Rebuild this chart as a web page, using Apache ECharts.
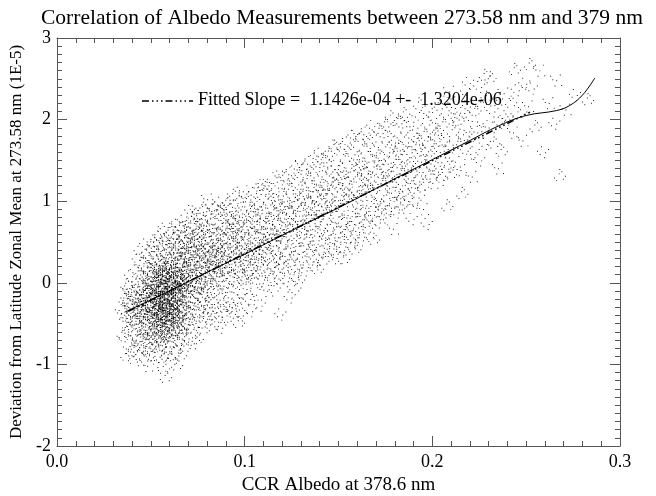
<!DOCTYPE html>
<html><head><meta charset="utf-8">
<script src="https://cdn.jsdelivr.net/npm/echarts@6/dist/echarts.min.js"></script>
<style>html,body{margin:0;padding:0;background:#fff}#c{width:656px;height:496px}</style>
</head><body><div id="c"></div>
<script>
// ---- chart text ----
var titleText = 'Correlation of Albedo Measurements between 273.58 nm and 379 nm';
var xName = 'CCR Albedo at 378.6 nm';
var yName = 'Deviation from Latitude Zonal Mean at 273.58 nm (1E-5)';
var fitName = 'Fitted Slope =  1.1426e-04 +-  1.3204e-06';
var xTicks = [0.0, 0.1, 0.2, 0.3];
var yTicks = [-2, -1, 0, 1, 2, 3];

// ---- scatter points ----
var pointsLow = [
[0.036,-0.35],[0.038,-0.21],[0.037,-0.48],[0.039,-0.05],[0.035,-0.62],[0.038,-0.30],[0.039,-0.41],[0.037,-0.15],[0.036,-0.72],[0.039,-0.26],
[0.038,-0.55],[0.034,-0.38],[0.039,0.08],[0.037,-0.88],[0.038,-0.12],[0.039,-0.67],[0.036,-0.20],[0.039,-0.33],[0.038,-0.44],[0.037,-0.02],
[0.040,-0.31],[0.041,-0.12],[0.042,-0.45],[0.040,-0.58],[0.043,-0.22],[0.041,-0.36],[0.044,0.05],[0.042,-0.18],[0.043,-0.67],[0.045,-0.29],
[0.044,-0.41],[0.046,-0.08],[0.045,-0.52],[0.047,-0.17],[0.046,-0.34],[0.048,0.12],[0.047,-0.61],[0.049,-0.25],[0.048,-0.44],[0.049,0.02],
[0.041,-0.78],[0.043,-0.04],[0.045,0.21],[0.046,-0.73],[0.047,0.30],[0.048,-0.87],[0.049,-0.38],[0.044,-0.95],[0.042,0.15],[0.040,-0.10],
[0.045,-0.14],[0.046,-0.21],[0.047,-0.40],[0.048,-0.28],[0.049,-0.13],[0.045,-0.37],[0.046,-0.49],[0.047,-0.06],[0.048,-0.19],[0.049,-0.55],
[0.044,-0.26],[0.043,-0.33],[0.042,-0.27],[0.041,-0.50],[0.045,0.08],[0.046,0.14],[0.047,-0.26],[0.048,-0.08],[0.049,-0.32],[0.047,-0.84],
[0.048,0.40],[0.049,0.25],[0.046,-0.60],[0.045,-0.68],[0.044,-0.15],[0.043,-0.48],[0.049,-0.71],[0.048,-0.63],[0.047,0.04],[0.046,-0.02],
[0.044,-0.57],[0.045,-0.21],[0.046,-0.29],[0.047,-0.51],[0.048,-0.35],[0.049,-0.02],[0.049,-0.46],[0.048,-0.16],[0.047,-0.11],[0.046,-0.42],
[0.045,-0.79],[0.049,0.18],[0.048,-1.02],[0.043,0.28],[0.041,-0.92],[0.042,-0.70],[0.044,0.38],[0.040,-0.83],[0.049,-0.89],[0.047,0.47]
];
var pointsCore = [
[0.050,-0.24],[0.051,-0.08],[0.052,-0.36],[0.053,0.05],[0.054,-0.19],[0.055,-0.42],[0.056,-0.01],[0.057,-0.28],[0.058,0.11],[0.059,-0.15],
[0.050,-0.47],[0.051,-0.31],[0.052,-0.12],[0.053,-0.55],[0.054,0.16],[0.055,-0.06],[0.056,-0.33],[0.057,-0.49],[0.058,-0.20],[0.059,0.02],
[0.050,0.07],[0.051,-0.58],[0.052,0.22],[0.053,-0.27],[0.054,-0.40],[0.055,0.09],[0.056,-0.62],[0.057,0.19],[0.058,-0.38],[0.059,-0.29],
[0.050,-0.15],[0.051,0.14],[0.052,-0.50],[0.053,-0.09],[0.054,-0.30],[0.055,-0.17],[0.056,0.27],[0.057,-0.11],[0.058,-0.56],[0.059,-0.43],
[0.050,-0.66],[0.051,-0.20],[0.052,0.01],[0.053,-0.39],[0.054,-0.04],[0.055,-0.26],[0.056,-0.14],[0.057,0.02],[0.058,-0.07],[0.059,0.24],
[0.050,0.30],[0.051,-0.43],[0.052,-0.23],[0.053,0.18],[0.054,-0.59],[0.055,0.33],[0.056,-0.24],[0.057,-0.37],[0.058,0.31],[0.059,-0.61],
[0.050,-0.35],[0.051,0.04],[0.052,-0.71],[0.053,-0.17],[0.054,0.07],[0.055,-0.51],[0.056,-0.45],[0.057,-0.20],[0.058,-0.13],[0.059,-0.08],
[0.050,-0.05],[0.051,-0.37],[0.052,0.37],[0.053,-0.64],[0.054,-0.24],[0.055,-0.33],[0.056,0.08],[0.057,-0.69],[0.058,0.00],[0.059,-0.35],
[0.051,0.26],[0.052,-0.29],[0.053,-0.03],[0.054,-0.13],[0.055,0.20],[0.056,-0.53],[0.057,0.41],[0.058,-0.27],[0.059,-0.21],[0.055,-0.10],
[0.050,-0.80],[0.052,-0.85],[0.054,-0.76],[0.056,-0.91],[0.058,-0.78],[0.053,-0.97],[0.057,-1.04],[0.059,-0.88],[0.055,-0.82],[0.058,-1.15],
[0.051,0.45],[0.053,0.52],[0.055,0.48],[0.057,0.58],[0.059,0.44],[0.054,0.62],[0.056,0.40],[0.058,0.53],[0.052,0.49],[0.059,0.68],
[0.053,-0.45],[0.054,-0.49],[0.055,-0.73],[0.056,-0.18],[0.057,-0.55],[0.058,-0.46],[0.059,-0.51],[0.056,-0.70],[0.054,-0.66],[0.057,-0.62],
[0.052,-0.58],[0.053,0.10],[0.054,0.28],[0.055,0.13],[0.056,0.17],[0.057,0.08],[0.058,0.20],[0.059,0.13],[0.051,-0.14],[0.050,0.17],
[0.053,-0.21],[0.055,-0.38],[0.057,-0.04],[0.059,-0.72],[0.058,-0.67],[0.056,-0.38],[0.054,-0.35],[0.052,-0.05],[0.050,-0.55],[0.051,-0.69],
[0.060,-0.12],[0.061,0.07],[0.062,-0.30],[0.063,0.15],[0.064,-0.05],[0.065,-0.22],[0.066,0.21],[0.067,0.03],[0.068,-0.17],[0.069,0.28],
[0.060,-0.41],[0.061,-0.19],[0.062,0.10],[0.063,-0.34],[0.064,0.29],[0.065,0.05],[0.066,-0.28],[0.067,-0.45],[0.068,0.12],[0.069,-0.08],
[0.060,0.19],[0.061,-0.52],[0.062,-0.08],[0.063,-0.15],[0.064,-0.40],[0.065,0.38],[0.066,-0.03],[0.067,0.26],[0.068,0.41],[0.069,-0.31],
[0.060,-0.02],[0.061,0.33],[0.062,-0.47],[0.063,0.01],[0.064,0.12],[0.065,-0.49],[0.066,0.44],[0.067,-0.22],[0.068,-0.38],[0.069,0.09],
[0.060,-0.63],[0.061,-0.06],[0.062,0.25],[0.063,-0.57],[0.064,-0.16],[0.065,0.17],[0.066,-0.11],[0.067,0.49],[0.068,-0.04],[0.069,0.36],
[0.060,0.36],[0.061,-0.35],[0.062,-0.20],[0.063,0.43],[0.064,-0.28],[0.065,-0.09],[0.066,-0.51],[0.067,-0.09],[0.068,0.22],[0.069,-0.18],
[0.060,-0.27],[0.061,0.20],[0.062,0.47],[0.063,-0.26],[0.064,0.52],[0.065,-0.34],[0.066,0.10],[0.067,-0.60],[0.068,-0.24],[0.069,0.51],
[0.060,0.06],[0.061,-0.72],[0.062,-0.64],[0.063,-0.81],[0.064,-0.69],[0.065,-0.74],[0.066,-0.88],[0.067,-0.70],[0.068,-0.55],[0.069,-0.47],
[0.060,0.55],[0.061,0.61],[0.062,0.58],[0.063,0.68],[0.064,0.71],[0.065,0.57],[0.066,0.64],[0.067,0.76],[0.068,0.60],[0.069,0.69],
[0.062,-0.93],[0.064,-1.00],[0.060,-0.86],[0.066,-0.62],[0.068,-0.79],[0.061,0.42],[0.063,0.30],[0.065,0.26],[0.067,0.14],[0.069,-0.02],
[0.060,-0.18],[0.062,-0.37],[0.064,0.02],[0.066,0.31],[0.068,0.31],[0.061,-0.44],[0.063,-0.06],[0.065,-0.60],[0.067,0.36],[0.069,0.18],
[0.064,-0.55],[0.066,-0.40],[0.068,0.02],[0.062,0.00],[0.060,0.28],[0.065,0.47],[0.063,-0.43],[0.067,-0.33],[0.069,-0.40],[0.061,0.13]
];
var pointsCoreDense = [
[0.054,-0.22],[0.056,-0.09],[0.058,-0.31],[0.060,-0.05],[0.062,-0.19],[0.064,-0.34],[0.057,0.06],[0.059,-0.42],[0.061,-0.26],[0.063,0.03],
[0.055,-0.29],[0.057,-0.16],[0.059,0.09],[0.061,-0.38],[0.063,-0.11],[0.065,0.12],[0.053,-0.33],[0.055,0.02],[0.058,-0.24],[0.060,-0.48],
[0.062,0.07],[0.064,-0.21],[0.066,-0.02],[0.052,-0.12],[0.054,-0.44],[0.056,-0.36],[0.058,-0.01],[0.060,0.14],[0.062,-0.41],[0.064,0.09],
[0.066,-0.29],[0.053,0.00],[0.055,-0.18],[0.057,-0.40],[0.059,-0.27],[0.061,0.04],[0.063,-0.23],[0.065,-0.39],[0.056,0.11],[0.058,-0.14],
[0.060,-0.30],[0.062,-0.12],[0.064,-0.07],[0.054,-0.06],[0.056,-0.26],[0.058,-0.47],[0.060,0.02],[0.062,-0.32],[0.064,0.16],[0.066,-0.15],
[0.055,-0.52],[0.057,-0.30],[0.059,-0.09],[0.061,-0.15],[0.063,-0.46],[0.065,-0.05],[0.053,-0.25],[0.057,0.13],[0.061,-0.53],[0.065,0.00],
[0.052,-0.38],[0.054,0.05],[0.056,-0.48],[0.058,0.17],[0.060,-0.22],[0.062,-0.56],[0.064,-0.45],[0.066,0.06],[0.059,-0.58],[0.063,-0.30]
];
var pointsMid = [
[0.070,0.05],[0.071,0.22],[0.072,-0.10],[0.073,0.31],[0.074,0.12],[0.075,-0.05],[0.076,0.38],[0.077,0.18],[0.078,0.02],[0.079,0.45],
[0.070,-0.22],[0.071,-0.04],[0.072,0.27],[0.073,-0.18],[0.074,0.42],[0.075,0.20],[0.076,-0.13],[0.077,-0.30],[0.078,0.29],[0.079,0.08],
[0.070,0.35],[0.071,-0.37],[0.072,0.09],[0.073,0.02],[0.074,-0.26],[0.075,0.51],[0.076,0.11],[0.077,0.40],[0.078,0.55],[0.079,-0.15],
[0.070,0.48],[0.071,0.15],[0.072,-0.45],[0.073,0.58],[0.074,0.01],[0.075,-0.40],[0.076,0.60],[0.077,-0.06],[0.078,-0.21],[0.079,0.24],
[0.070,-0.51],[0.071,0.62],[0.072,0.43],[0.073,-0.33],[0.074,0.66],[0.075,0.32],[0.076,-0.48],[0.077,0.71],[0.078,0.38],[0.079,0.63],
[0.070,0.74],[0.072,0.80],[0.074,0.85],[0.076,0.78],[0.078,0.92],[0.071,-0.62],[0.073,-0.58],[0.075,-0.68],[0.077,-0.55],[0.079,-0.44],
[0.070,0.18],[0.071,0.37],[0.072,-0.25],[0.073,0.14],[0.074,0.26],[0.075,0.08],[0.076,0.25],[0.077,0.05],[0.078,0.14],[0.079,-0.03],
[0.071,0.50],[0.073,0.46],[0.075,0.68],[0.077,0.53],[0.079,0.76],[0.070,-0.09],[0.072,0.60],[0.074,-0.12],[0.076,-0.02],[0.078,-0.35],
[0.073,-0.74],[0.077,-0.15],[0.075,0.89],[0.071,0.88],[0.079,0.34],[0.072,-0.03],[0.074,0.47],[0.076,0.49],[0.078,0.70],[0.070,0.61],
[0.080,0.15],[0.081,0.32],[0.082,0.05],[0.083,0.41],[0.084,0.21],[0.085,-0.02],[0.086,0.48],[0.087,0.27],[0.088,0.10],[0.089,0.55],
[0.080,-0.12],[0.081,0.58],[0.082,0.36],[0.083,-0.08],[0.084,0.64],[0.085,0.30],[0.086,0.02],[0.087,0.70],[0.088,0.44],[0.089,0.19],
[0.080,0.45],[0.081,-0.25],[0.082,0.72],[0.083,0.18],[0.084,-0.20],[0.085,0.79],[0.086,0.25],[0.087,-0.14],[0.088,0.83],[0.089,-0.05],
[0.080,0.68],[0.082,-0.38],[0.084,0.90],[0.086,-0.31],[0.088,-0.42],[0.081,0.85],[0.083,0.95],[0.085,0.52],[0.087,0.98],[0.089,0.88],
[0.080,0.28],[0.081,0.09],[0.082,0.22],[0.083,0.60],[0.084,0.39],[0.085,0.12],[0.086,0.66],[0.087,0.45],[0.088,0.31],[0.089,0.37],
[0.081,-0.45],[0.083,-0.52],[0.085,-0.36],[0.087,-0.55],[0.089,-0.28],[0.080,1.02],[0.084,0.08],[0.086,0.88],[0.088,0.60],[0.082,0.50],
[0.083,0.30],[0.085,0.40],[0.087,0.15],[0.089,0.72],[0.081,0.20],[0.084,0.55],[0.086,0.37],[0.088,0.18],[0.080,-0.30],[0.082,-0.02],
[0.090,0.25],[0.091,0.42],[0.092,0.12],[0.093,0.55],[0.094,0.31],[0.095,0.05],[0.096,0.62],[0.097,0.38],[0.098,0.20],[0.099,0.70],
[0.090,-0.05],[0.091,0.68],[0.092,0.47],[0.093,0.02],[0.094,0.78],[0.095,0.43],[0.096,0.14],[0.097,0.85],[0.098,0.52],[0.099,0.28],
[0.090,0.58],[0.091,-0.18],[0.092,0.88],[0.093,0.30],[0.094,-0.12],[0.095,0.95],[0.096,0.35],[0.097,-0.08],[0.098,1.00],[0.099,0.06],
[0.090,0.90],[0.092,-0.30],[0.094,1.08],[0.096,-0.25],[0.098,-0.40],[0.091,1.02],[0.093,0.72],[0.095,0.65],[0.097,0.58],[0.099,1.12],
[0.090,0.35],[0.091,0.18],[0.092,0.32],[0.093,0.80],[0.094,0.50],[0.095,0.22],[0.096,0.81],[0.097,0.18],[0.098,0.42],[0.099,0.48],
[0.091,-0.42],[0.093,-0.35],[0.095,-0.28],[0.097,-0.48],[0.099,-0.20],[0.090,0.12],[0.094,0.65],[0.096,0.50],[0.098,0.75],[0.092,0.65]
];
var pointsHigh = [
[0.100,0.35],[0.101,0.55],[0.102,0.20],[0.103,0.68],[0.104,0.42],[0.105,0.10],[0.106,0.75],[0.107,0.48],[0.108,0.28],[0.109,0.85],
[0.100,0.05],[0.101,0.80],[0.102,0.60],[0.103,0.12],[0.104,0.92],[0.105,0.55],[0.106,0.25],[0.107,0.98],[0.108,0.62],[0.109,0.38],
[0.100,0.70],[0.101,-0.08],[0.102,1.02],[0.103,0.40],[0.104,0.00],[0.105,1.10],[0.106,0.45],[0.107,0.05],[0.108,1.15],[0.109,0.18],
[0.100,1.05],[0.102,-0.20],[0.104,0.65],[0.106,-0.15],[0.108,-0.28],[0.101,0.30],[0.103,0.88],[0.105,0.32],[0.107,0.70],[0.109,0.60],
[0.100,0.48],[0.102,0.38],[0.104,0.22],[0.106,0.90],[0.108,0.45],[0.101,0.15],[0.103,-0.35],[0.105,0.80],[0.107,0.28],[0.109,1.20],
[0.110,0.48],[0.111,0.66],[0.112,0.30],[0.113,0.80],[0.114,0.52],[0.115,0.20],[0.116,0.88],[0.117,0.60],[0.118,0.38],[0.119,0.95],
[0.110,0.15],[0.111,0.92],[0.112,0.72],[0.113,0.25],[0.114,1.05],[0.115,0.65],[0.116,0.35],[0.117,1.12],[0.118,0.75],[0.119,0.50],
[0.110,0.82],[0.111,0.02],[0.112,1.15],[0.113,0.55],[0.114,0.10],[0.115,1.22],[0.116,0.58],[0.117,0.18],[0.118,1.30],[0.119,-0.39],
[0.110,1.20],[0.112,-0.10],[0.114,0.78],[0.116,-0.05],[0.118,0.05],[0.111,0.42],[0.113,1.02],[0.115,0.45],[0.117,0.85],[0.119,0.70],
[0.110,0.60],[0.112,0.50],[0.114,0.35],[0.116,1.00],[0.118,0.58],[0.119,0.28],
[0.120,0.58],[0.121,0.78],[0.122,0.40],[0.123,0.92],[0.124,0.64],[0.125,0.30],[0.126,1.00],[0.127,0.72],[0.128,0.50],[0.129,1.08],
[0.120,0.25],[0.121,1.05],[0.122,0.85],[0.123,0.35],[0.124,1.18],[0.125,0.78],[0.126,0.45],[0.127,1.25],[0.128,0.88],[0.129,0.62],
[0.120,0.95],[0.121,0.12],[0.122,1.28],[0.123,0.68],[0.124,0.20],[0.125,1.35],[0.126,0.70],[0.127,0.28],[0.128,1.42],[0.129,0.05],
[0.120,1.32],[0.122,0.02],[0.124,0.90],[0.126,0.10],[0.128,0.15],[0.121,0.55],[0.123,1.15],[0.125,0.55],[0.127,0.98],[0.129,0.82],
[0.124,-0.18],[0.127,-0.05],
[0.130,0.70],[0.131,0.90],[0.132,0.52],[0.133,1.05],[0.134,0.76],[0.135,0.42],[0.136,1.12],[0.137,0.85],[0.138,0.62],[0.139,1.20],
[0.130,0.38],[0.131,1.18],[0.132,0.98],[0.133,0.48],[0.134,1.30],[0.135,0.90],[0.136,0.58],[0.137,1.38],[0.138,1.00],[0.139,0.75],
[0.130,1.08],[0.131,0.25],[0.132,1.40],[0.133,0.80],[0.134,0.32],[0.135,1.48],[0.136,0.82],[0.137,0.40],[0.138,1.55],[0.139,0.18],
[0.130,1.45],[0.132,0.15],[0.134,1.02],[0.136,0.22],[0.138,0.28],[0.131,0.65],[0.133,1.28],[0.135,0.66],[0.137,1.10],[0.139,0.95],
[0.140,0.82],[0.141,1.02],[0.142,0.64],[0.143,1.16],[0.144,0.88],[0.145,0.54],[0.146,1.24],[0.147,0.96],[0.148,0.74],[0.149,1.32],
[0.140,0.50],[0.141,1.30],[0.142,1.10],[0.143,0.60],[0.144,1.42],[0.145,1.02],[0.146,0.70],[0.147,1.50],[0.148,1.12],[0.149,0.86],
[0.140,1.20],[0.141,0.38],[0.142,1.52],[0.143,0.92],[0.144,0.45],[0.145,1.60],[0.146,0.94],[0.147,0.52],[0.148,1.68],[0.149,0.30],
[0.140,1.58],[0.142,0.28],[0.144,1.14],[0.146,0.35],[0.148,0.40],[0.141,0.78],[0.143,1.40],[0.147,1.22]
];
var pointsTop = [
[0.150,0.94],[0.151,1.14],[0.152,0.76],[0.153,1.28],[0.154,1.00],[0.155,0.66],[0.156,1.36],[0.157,1.08],[0.158,0.86],[0.159,1.44],
[0.150,0.62],[0.151,1.42],[0.152,1.22],[0.153,0.72],[0.154,1.54],[0.155,1.14],[0.156,0.82],[0.157,1.62],[0.158,1.24],[0.159,0.98],
[0.150,1.32],[0.151,0.50],[0.152,1.64],[0.153,1.04],[0.154,0.56],[0.155,1.72],[0.156,1.06],[0.157,0.64],[0.158,1.80],[0.159,0.42],
[0.150,1.70],[0.152,0.40],[0.154,1.26],[0.156,0.48],[0.158,0.52],[0.153,0.30],
[0.160,1.06],[0.161,1.26],[0.162,0.88],[0.163,1.40],[0.164,1.12],[0.165,0.78],[0.166,1.48],[0.167,1.20],[0.168,0.98],[0.169,1.56],
[0.160,0.74],[0.161,1.54],[0.162,1.34],[0.163,0.84],[0.164,1.66],[0.165,1.26],[0.166,0.94],[0.167,1.74],[0.168,1.36],[0.169,1.10],
[0.160,1.44],[0.161,0.62],[0.162,1.76],[0.163,1.16],[0.164,0.68],[0.165,1.84],[0.166,1.18],[0.167,0.76],[0.168,1.92],[0.169,0.54],
[0.160,1.82],[0.162,0.52],[0.164,1.38],[0.166,0.60],
[0.170,1.18],[0.171,1.38],[0.172,1.00],[0.173,1.52],[0.174,1.24],[0.175,0.90],[0.176,1.60],[0.177,1.32],[0.178,1.10],[0.179,1.68],
[0.170,0.86],[0.171,1.66],[0.172,1.46],[0.173,0.96],[0.174,1.78],[0.175,1.38],[0.176,1.06],[0.177,1.86],[0.178,1.48],[0.179,1.22],
[0.170,1.56],[0.171,0.74],[0.172,1.88],[0.173,1.28],[0.174,0.80],[0.175,1.96],[0.176,1.30],[0.177,0.88],[0.178,2.04],[0.179,0.66],
[0.180,1.30],[0.181,1.50],[0.182,1.12],[0.183,1.64],[0.184,1.36],[0.185,1.02],[0.186,1.72],[0.187,1.44],[0.188,1.22],[0.189,1.80],
[0.180,0.98],[0.181,1.78],[0.182,1.58],[0.183,1.08],[0.184,1.90],[0.185,1.50],[0.186,1.18],[0.187,1.98],[0.188,1.60],[0.189,1.34],
[0.180,1.68],[0.181,0.86],[0.182,2.00],[0.183,1.40],[0.184,0.92],[0.185,2.08],[0.187,1.00],[0.189,0.78],
[0.190,1.42],[0.191,1.62],[0.192,1.24],[0.193,1.76],[0.194,1.48],[0.195,1.14],[0.196,1.84],[0.197,1.56],[0.198,1.34],[0.199,1.92],
[0.190,1.10],[0.191,1.90],[0.192,1.70],[0.193,1.20],[0.194,2.02],[0.195,1.62],[0.196,1.30],[0.197,2.10],[0.198,1.72],[0.199,1.46],
[0.191,0.98],[0.193,2.20],[0.195,0.90],[0.197,0.72],
[0.200,1.54],[0.201,1.74],[0.202,1.36],[0.203,1.88],[0.204,1.60],[0.205,1.26],[0.206,1.96],[0.207,1.68],[0.208,1.46],[0.209,2.04],
[0.200,1.22],[0.201,2.02],[0.202,1.82],[0.203,1.32],[0.204,2.14],[0.205,1.74],[0.206,1.42],[0.207,2.22],[0.208,0.95],[0.209,2.34],
[0.210,1.66],[0.211,1.86],[0.212,1.48],[0.213,2.00],[0.214,1.72],[0.215,1.38],[0.216,2.08],[0.217,1.80],[0.218,1.58],[0.219,2.16],
[0.210,1.34],[0.212,2.14],[0.214,1.95],[0.216,1.10],[0.218,2.30],[0.219,2.45],
[0.220,1.78],[0.221,1.98],[0.222,1.60],[0.223,2.12],[0.224,1.84],[0.225,1.50],[0.226,2.20],[0.227,1.92],[0.228,1.70],[0.229,2.28],
[0.221,1.30],[0.225,2.40],[0.228,2.55],
[0.230,1.90],[0.232,2.10],[0.233,1.72],[0.234,2.24],[0.236,1.96],[0.237,1.62],[0.238,2.32],[0.239,2.04],[0.231,2.52],[0.235,1.40],
[0.240,2.00],[0.242,2.22],[0.243,1.84],[0.245,2.36],[0.246,2.08],[0.248,1.74],[0.249,2.44],[0.244,2.62],
[0.251,2.16],[0.253,2.38],[0.255,1.92],[0.257,2.60],[0.259,1.60],[0.252,2.68],
[0.262,2.20],[0.265,1.95],[0.268,1.32],[0.271,2.12],[0.276,2.30],[0.283,2.25],[0.266,2.48]
];

// ---- smoothed curve (solid) and fitted line (dash-dot) ----
var curveX = [0.036, 0.060, 0.080, 0.100, 0.125, 0.150, 0.183, 0.200, 0.218, 0.236, 0.250, 0.266, 0.273, 0.280, 0.2866];
var curveY = [-0.36, -0.10, 0.13, 0.35, 0.64, 0.92, 1.31, 1.51, 1.72, 1.93, 2.05, 2.11, 2.17, 2.30, 2.51];
var fitX = [0.038, 0.252];
var fitY = [-0.35, 2.09];

var allPoints = pointsLow.concat(pointsCore, pointsCoreDense, pointsMid, pointsHigh, pointsTop);
var curveData = curveX.map(function (x, i) { return [x, curveY[i]]; });
var fitData = fitX.map(function (x, i) { return [x, fitY[i]]; });

// speckle glyphs: each plotted point is drawn as a small cluster of 1px dots (style only)
function sq(x, y) { return 'M' + x + ' ' + y + 'h8v8h-8Z'; }
var speckles = [
  'path://' + sq(0, 38) + sq(33, 0) + sq(92, 24) + sq(58, 92) + sq(22, 64) + sq(66, 50),
  'path://' + sq(0, 70) + sq(45, 0) + sq(92, 56) + sq(18, 92) + sq(40, 36) + sq(74, 80) + sq(62, 18),
  'path://' + sq(0, 12) + sq(80, 0) + sq(92, 88) + sq(36, 92) + sq(50, 48) + sq(18, 40)
];

var FONT = 'Liberation Serif';
var axisCol = '#555';
function axisCommon(show) {
  return {
    axisLine: { show: true, onZero: false, lineStyle: { color: axisCol, width: 1 } },
    axisTick: { show: true, inside: true, length: 10, lineStyle: { color: axisCol } },
    minorTick: { show: true, splitNumber: 10, length: 5, lineStyle: { color: axisCol } },
    splitLine: { show: false },
    axisLabel: { show: show, color: '#000', fontFamily: FONT, fontSize: 18 }
  };
}
var xMin = xTicks[0], xMax = xTicks[xTicks.length - 1];
var yMin = yTicks[0], yMax = yTicks[yTicks.length - 1];

var chart = echarts.init(document.getElementById('c'), null, { renderer: 'canvas' });
chart.setOption({
  animation: false,
  backgroundColor: '#fff',
  title: {
    text: titleText, left: 36, top: 2,
    textStyle: { fontFamily: FONT, fontSize: 21.5, fontWeight: 'normal', color: '#000' }
  },
  graphic: [
    { type: 'line', z: 10, shape: { x1: 142, y1: 101, x2: 193, y2: 101 },
      style: { stroke: '#000', lineWidth: 1.6, lineDash: [7, 3, 1.5, 3, 1.5, 3, 1.5, 3] } },
    { type: 'text', z: 10, left: 198, top: 91,
      style: { text: fitName, font: '18px "Liberation Serif"', fill: '#000' } }
  ],
  grid: { left: 57, right: 36, top: 38, bottom: 50, containLabel: false, outerBoundsMode: 'none' },
  xAxis: [
    Object.assign(axisCommon(true), {
      type: 'value', min: xMin, max: xMax, interval: 0.1, position: 'bottom',
      name: xName, nameLocation: 'middle', nameGap: 29,
      nameTextStyle: { fontFamily: FONT, fontSize: 19, color: '#000' },
      axisLabel: { show: true, color: '#000', fontFamily: FONT, fontSize: 18, margin: 7,
        formatter: function (v) { return v.toFixed(1); } }
    }),
    Object.assign(axisCommon(false), {
      type: 'value', min: xMin, max: xMax, interval: 0.1, position: 'top'
    })
  ],
  yAxis: [
    Object.assign(axisCommon(true), {
      type: 'value', min: yMin, max: yMax, interval: 1, position: 'left',
      name: yName, nameLocation: 'middle', nameGap: 32, nameRotate: 90,
      nameTextStyle: { fontFamily: FONT, fontSize: 17, color: '#000' },
      axisLabel: { show: true, color: '#000', fontFamily: FONT, fontSize: 18, margin: 6 }
    }),
    Object.assign(axisCommon(false), {
      type: 'value', min: yMin, max: yMax, interval: 1, position: 'right'
    })
  ],
  series: [
    {
      type: 'scatter', name: 'points', data: allPoints,
      symbol: function (v, p) { return speckles[p.dataIndex % 3]; },
      symbolSize: 12,
      itemStyle: { color: '#000', opacity: 0.9 }, silent: true, z: 2
    },
    {
      type: 'line', name: 'curve', data: curveData, smooth: 0.4, symbol: 'none',
      lineStyle: { color: '#000', width: 1 }, silent: true, z: 3
    },
    {
      type: 'line', name: fitName, data: fitData, symbol: 'none',
      lineStyle: { color: '#000', width: 1.6, type: [7, 3, 1.5, 3, 1.5, 3, 1.5, 3] }, silent: true, z: 4
    }
  ]
});
</script></body></html>
